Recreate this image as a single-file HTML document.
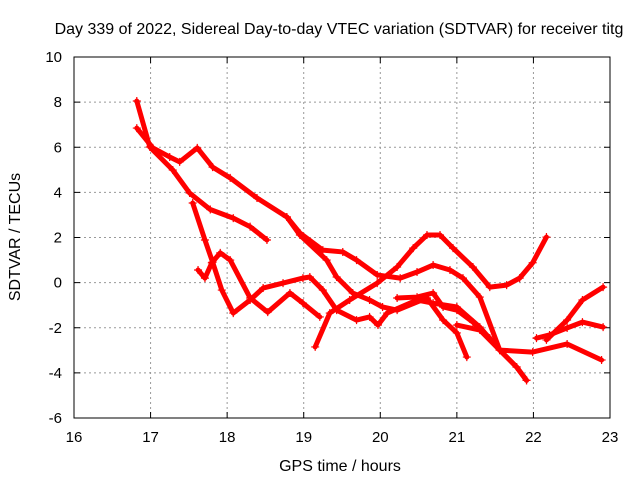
<!DOCTYPE html>
<html><head><meta charset="utf-8"><style>
body{margin:0;background:#fff}
svg{display:block;font-family:"Liberation Sans",sans-serif}
</style></head><body>
<svg id="chart" width="640" height="480">
<text x="339" y="34" font-size="16" text-anchor="middle">Day 339 of 2022, Sidereal Day-to-day VTEC variation (SDTVAR) for receiver titg</text>
<text x="340" y="471" font-size="16" text-anchor="middle">GPS time / hours</text>
<text transform="translate(20,237) rotate(-90)" font-size="16" text-anchor="middle">SDTVAR / TECUs</text>
<g id="grid"></g><g id="series"></g>
<rect x="74" y="57" width="536" height="361" fill="none" stroke="#000" stroke-width="1"/>
</svg>
<script>
const xTicks=[16,17,18,19,20,21,22,23];
const yTicks=[-6,-4,-2,0,2,4,6,8,10];
const trace1=[[16.82,8.05],[16.99,6.01],[17.29,4.99],[17.51,3.97],[17.78,3.24],[18.08,2.86],[18.30,2.48],[18.52,1.89]];
const trace2=[[16.82,6.85],[17.03,5.97],[17.25,5.57],[17.38,5.35],[17.61,5.97],[17.81,5.12],[18.04,4.64],[18.39,3.75],[18.78,2.91],[18.95,2.20],[19.25,1.44],[19.51,1.36],[19.69,1.00],[19.96,0.34],[20.26,0.20],[20.48,0.47],[20.69,0.78],[20.91,0.56],[21.08,0.20],[21.30,-0.64],[21.56,-2.99],[21.78,-3.74],[21.91,-4.33]];
const trace3=[[19.15,-2.85],[19.34,-1.35],[19.60,-0.77],[19.96,-0.02],[20.22,0.69],[20.43,1.53],[20.61,2.11],[20.78,2.11],[20.95,1.53],[21.21,0.69],[21.43,-0.20],[21.65,-0.11],[21.82,0.20],[21.99,0.88],[22.17,2.02]];
const trace4=[[17.55,3.53],[17.71,1.89],[17.81,0.91],[17.93,-0.33],[18.08,-1.35],[18.30,-0.77],[18.47,-0.24],[18.73,-0.02],[18.99,0.20],[19.08,0.25],[19.25,-0.33],[19.43,-1.22],[19.69,-1.66],[19.86,-1.52],[19.97,-1.88],[20.09,-1.35],[20.48,-0.77],[20.69,-0.91],[21.00,-1.08],[21.30,-1.97],[21.56,-2.99],[21.99,-3.08],[22.44,-2.72],[22.89,-3.43]];
const trace5=[[17.62,0.56],[17.71,0.20],[17.80,0.88],[17.91,1.32],[18.04,1.00],[18.30,-0.68],[18.53,-1.31],[18.82,-0.46],[18.99,-0.91],[19.21,-1.52]];
const trace6=[[18.78,2.91],[18.95,2.11],[19.30,1.00],[19.43,0.25],[19.64,-0.46],[19.86,-0.77],[20.03,-1.08],[20.22,-1.22],[20.61,-0.68],[20.82,-1.66],[21.00,-2.23],[21.13,-3.30]];
const trace7=[[20.22,-0.68],[20.48,-0.64],[20.69,-0.46],[20.82,-1.08],[21.00,-1.22],[21.21,-1.75],[21.43,-2.46]];
const trace8=[[21.00,-1.88],[21.30,-2.10],[21.56,-2.99],[21.78,-3.74],[21.91,-4.33]];
const trace9=[[22.04,-2.46],[22.21,-2.32],[22.44,-2.01],[22.64,-1.75],[22.91,-1.97]];
const trace10=[[22.17,-2.54],[22.44,-1.66],[22.64,-0.77],[22.91,-0.20]];
const traces=[trace1,trace2,trace3,trace4,trace5,trace6,trace7,trace8,trace9,trace10];

const NS="http://www.w3.org/2000/svg";
const X0=74,X1=610,Y0=418,Y1=57;
const xs=h=>X0+(h-16)/(23-16)*(X1-X0);
const ys=v=>Y0-(v+6)/16*(Y0-Y1);
const grid=document.getElementById('grid');
function mk(tag,attrs,parent){const e=document.createElementNS(NS,tag);for(const k in attrs)e.setAttribute(k,attrs[k]);parent.appendChild(e);return e;}
xTicks.forEach(t=>{
  const x=xs(t);
  if(t>16&&t<23){const g=mk('line',{x1:x,x2:x,y1:Y1,y2:Y0,stroke:'#999','stroke-dasharray':'2,3'},grid);
  
  }
  mk('line',{x1:x,x2:x,y1:Y0,y2:Y0-6,stroke:'#000'},grid);
  mk('line',{x1:x,x2:x,y1:Y1,y2:Y1+6,stroke:'#000'},grid);
  const l=mk('text',{x:x,y:442,'font-size':15,'text-anchor':'middle'},grid);l.textContent=t;
  
  
});
yTicks.forEach(t=>{
  const y=ys(t);
  if(t>-6&&t<10){const g=mk('line',{x1:X0,x2:X1,y1:y,y2:y,stroke:'#999','stroke-dasharray':'2,3'},grid);
  
  }
  mk('line',{x1:X0,x2:X0+6,y1:y,y2:y,stroke:'#000'},grid);
  mk('line',{x1:X1,x2:X1-6,y1:y,y2:y,stroke:'#000'},grid);
  const l=mk('text',{x:62,y:y+5,'font-size':15,'text-anchor':'end'},grid);l.textContent=t;
  
  
});
const sg=document.getElementById('series');
traces.forEach((tr,i)=>{
  const g=mk('g',{},sg);
  
  
  mk('polyline',{points:tr.map(p=>xs(p[0])+','+ys(p[1])).join(' '),fill:'none',stroke:'#f00','stroke-width':5,'stroke-linejoin':'round','stroke-linecap':'round'},g);
  tr.forEach(p=>{
    const x=xs(p[0]),y=ys(p[1]);
    mk('path',{d:`M${x-4},${y}H${x+4}M${x},${y-4}V${y+4}`,stroke:'#f00','stroke-width':1.2},g);
  });
});
</script>
</body></html>
